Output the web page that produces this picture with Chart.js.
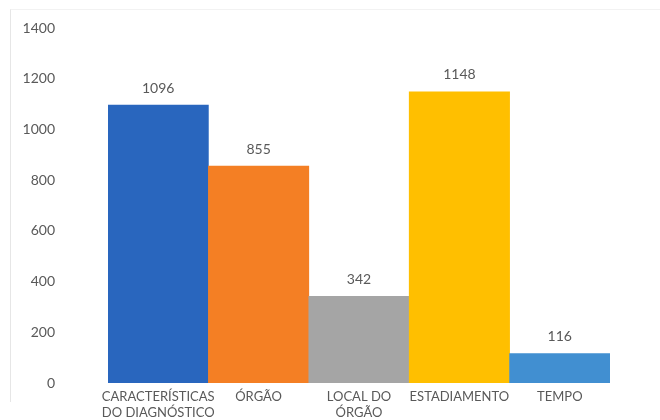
<!DOCTYPE html>
<html>
<head>
<meta charset="utf-8">
<script src="https://cdn.jsdelivr.net/npm/chart.js@4.4.0/dist/chart.umd.min.js"></script>
<style>
    html, body { margin: 0; padding: 0; background: #fff; }
    #wrap { position: relative; width: 660px; height: 420px; }
    #frame { position: absolute; left: 10px; top: 9px; width: 650px; height: 393px;
             border-left: 1px solid #e6e6e6; border-top: 1px solid #f2f2f2; box-sizing: border-box; }
    canvas { position: absolute; left: 0; top: 0; }
</style>
</head>
<body>
<div id="wrap">
    <div id="frame"></div>
    <canvas id="chart" width="660" height="420"></canvas>
</div>
<script>
const categories = [
    ['CARACTERÍSTICAS', 'DO DIAGNÓSTICO'],
    'ÓRGÃO',
    ['LOCAL DO', 'ÓRGÃO'],
    'ESTADIAMENTO',
    'TEMPO'
];
const counts = [1096, 855, 342, 1148, 116];
const barColors = ['#2966be', '#f47f24', '#a5a5a5', '#ffbf00', '#418fd1'];

const textColor = '#595959';
const fontFamily = 'Lato, "Open Sans", sans-serif';

// value labels above each bar
const valueLabels = {
    id: 'valueLabels',
    afterDatasetsDraw(chart) {
        const ctx = chart.ctx;
        const meta = chart.getDatasetMeta(0);
        ctx.save();
        ctx.fillStyle = textColor;
        ctx.font = '14px ' + fontFamily;
        ctx.textAlign = 'center';
        ctx.textBaseline = 'middle';
        meta.data.forEach((bar, i) => {
            ctx.fillText(String(counts[i]), bar.x, bar.y - 17);
        });
        ctx.restore();
    }
};

new Chart(document.getElementById('chart').getContext('2d'), {
    type: 'bar',
    data: {
        labels: categories,
        datasets: [{
            data: counts,
            backgroundColor: barColors,
            borderWidth: 0,
            barPercentage: 1.0,
            categoryPercentage: 1.0,
        }]
    },
    options: {
        responsive: false,
        animation: false,
        layout: {
            padding: { left: 10, right: 50, top: 28, bottom: 0 }
        },
        plugins: {
            legend: { display: false },
            tooltip: { enabled: false }
        },
        scales: {
            y: {
                min: 0,
                max: 1400,
                ticks: {
                    stepSize: 200,
                    color: textColor,
                    padding: 53,
                    callback: (v) => String(v),
                    font: { size: 14, family: fontFamily }
                },
                grid: { display: false, drawTicks: false },
                border: { display: false },
                afterFit: (scale) => {
                    scale.width = 98;
                    // tick padding is only meant to push labels sideways
                    scale.paddingTop = 0;
                    scale.paddingBottom = 0;
                }
            },
            x: {
                ticks: {
                    color: textColor,
                    padding: 6,
                    maxRotation: 0,
                    autoSkip: false,
                    font: { size: 13, family: fontFamily, lineHeight: 1.2 }
                },
                grid: { display: false, drawTicks: false },
                border: { display: false },
                afterFit: (scale) => { scale.height = 37; }
            }
        }
    },
    plugins: [valueLabels]
});
</script>
</body>
</html>
